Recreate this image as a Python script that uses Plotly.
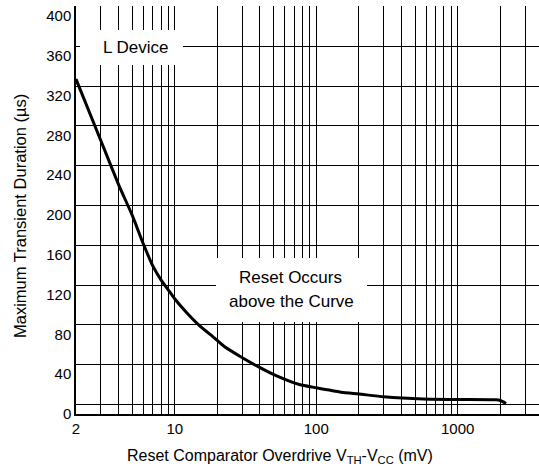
import math
import plotly.graph_objects as go

# Curve data
overdrive_mv = [2, 3, 4, 5, 6, 7, 8, 9, 10, 12, 15, 19, 22.5, 30, 40, 52, 76, 100, 150, 200, 300, 570, 1000, 1870, 2000, 2200]
duration_us = [327, 265, 221, 190, 161, 139, 125, 115, 106, 93, 79, 67, 58, 47, 37, 29, 20, 16.7, 12.3, 10.5, 7.7, 5.4, 4.9, 4.6, 4.0, 1]

x_tick_vals = [2, 10, 100, 1000]
x_tick_text = ["2", "10", "100", "1000"]
x_minor_vals = [3, 4, 5, 6, 7, 8, 9, 20, 30, 40, 50, 60, 70, 80, 90,
                200, 300, 400, 500, 600, 700, 800, 900, 2000, 3000]
y_grid_vals = [0, 40, 80, 120, 160, 200, 240, 280, 320, 360, 400]
y_tick_text = ["0", "40", "80", "120", "160", "200", "240", "280", "320", "360", "400"]
LABEL_DROP = 9.5  # tick labels sit slightly below their gridlines in the reference

x_title = "Reset Comparator Overdrive V<sub>TH</sub>-V<sub>CC</sub> (mV)"
y_title = "Maximum Transient Duration (µs)"

FONT = "Liberation Sans, Arial, sans-serif"

fig = go.Figure()
fig.add_trace(go.Scatter(x=overdrive_mv, y=duration_us, mode="lines",
                         line=dict(color="black", width=3, shape="spline", smoothing=0.5),
                         showlegend=False, hoverinfo="skip"))

fig.update_layout(
    width=539, height=473,
    margin=dict(l=76, r=0, t=6, b=59, autoexpand=False),
    paper_bgcolor="white", plot_bgcolor="white",
    font=dict(family=FONT, color="black", size=15),
    xaxis=dict(type="log", range=[math.log10(2), 3.575], automargin=False,
               tickvals=x_tick_vals, ticktext=x_tick_text,
               showgrid=True, gridcolor="black", gridwidth=1,
               minor=dict(tickvals=x_minor_vals, showgrid=True, gridcolor="black", gridwidth=1, ticks=""),
               showline=True, linecolor="black", linewidth=1.5,
               ticks="", tickfont=dict(size=15),
               zeroline=False),
    yaxis=dict(range=[-9.6, 400.5], automargin=False,
               tickvals=[v - LABEL_DROP for v in y_grid_vals], ticktext=y_tick_text,
               showgrid=False,
               minor=dict(tickvals=y_grid_vals, showgrid=True, gridcolor="black", gridwidth=1, ticks=""),
               showline=True, linecolor="black", linewidth=1.5,
               ticks="", tickfont=dict(size=15),
               zeroline=False),
)

def px_to_paper(px, py):
    return (px - 76) / 463.0, (414 - py) / 408.0

# Axis titles
ax, ay = px_to_paper(280, 456.7)
fig.add_annotation(xref="paper", yref="paper", x=ax, y=ay, text=x_title, showarrow=False,
                   font=dict(size=16), xanchor="center", yanchor="middle")
ax, ay = px_to_paper(20, 216)
fig.add_annotation(xref="paper", yref="paper", x=ax, y=ay, text=y_title, showarrow=False,
                   font=dict(size=16.5), textangle=-90, xanchor="center", yanchor="middle")

# White boxes behind the annotation texts
x0, y0 = px_to_paper(80, 65)
x1, y1 = px_to_paper(183, 30)
fig.add_shape(type="rect", xref="paper", yref="paper", x0=x0, y0=y0, x1=x1, y1=y1,
              fillcolor="white", line=dict(width=0), layer="above")
x0, y0 = px_to_paper(216, 322)
x1, y1 = px_to_paper(367, 258)
fig.add_shape(type="rect", xref="paper", yref="paper", x0=x0, y0=y0, x1=x1, y1=y1,
              fillcolor="white", line=dict(width=0), layer="above")

ax, ay = px_to_paper(136, 47.5)
fig.add_annotation(xref="paper", yref="paper", x=ax, y=ay, text="L Device", showarrow=False,
                   font=dict(size=17), xanchor="center", yanchor="middle")
ax, ay = px_to_paper(290, 277.5)
fig.add_annotation(xref="paper", yref="paper", x=ax, y=ay, text="Reset Occurs", showarrow=False,
                   font=dict(size=17), xanchor="center", yanchor="middle")
ax, ay = px_to_paper(291, 301.5)
fig.add_annotation(xref="paper", yref="paper", x=ax, y=ay, text="above the Curve", showarrow=False,
                   font=dict(size=17), xanchor="center", yanchor="middle")

fig.write_html("out.html", config={"displayModeBar": False},
               post_script="document.body.style.margin='0';document.body.style.overflow='hidden';")
